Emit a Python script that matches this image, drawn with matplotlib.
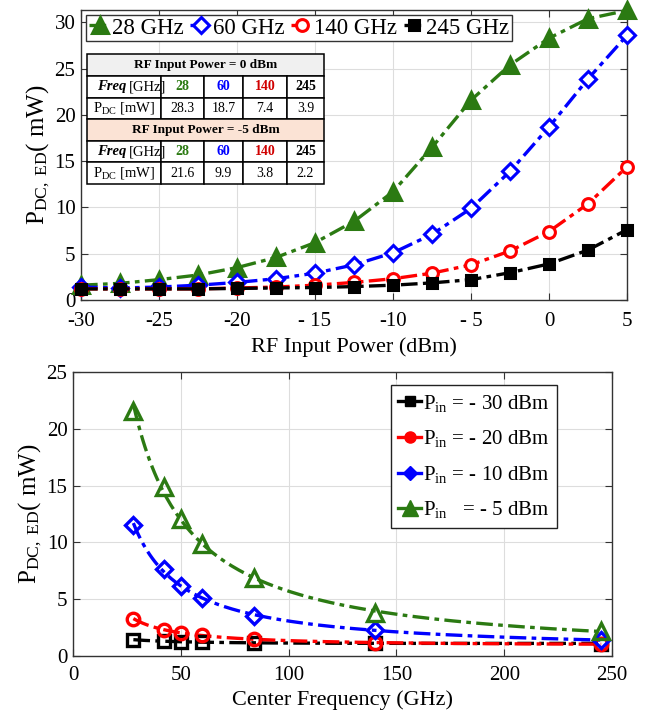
import numpy as np
import matplotlib
matplotlib.use("Agg")
import matplotlib.pyplot as plt
from matplotlib.lines import Line2D
from matplotlib.patches import Rectangle

plt.rcParams['font.family'] = 'Liberation Serif'
plt.rcParams['mathtext.fontset'] = 'custom'
plt.rcParams['mathtext.rm'] = 'Liberation Serif'
plt.rcParams['mathtext.it'] = 'Liberation Serif:italic'
plt.rcParams['mathtext.bf'] = 'Liberation Serif:bold'

# top panel: P_DC vs RF input power
pin = [-30, -27.5, -25, -22.5, -20, -17.5, -15, -12.5, -10, -7.5, -5, -2.5, 0, 2.5, 5]
p28 = [1.6, 1.8, 2.2, 2.7, 3.5, 4.6, 6.2, 8.5, 11.7, 16.5, 21.6, 25.4, 28.3, 30.4, 31.3]
p60 = [1.4, 1.3, 1.4, 1.6, 1.9, 2.3, 2.9, 3.8, 5.1, 7.1, 9.9, 13.9, 18.7, 23.9, 28.6]
p140 = [1.2, 1.2, 1.2, 1.2, 1.3, 1.4, 1.6, 1.9, 2.3, 2.9, 3.8, 5.3, 7.4, 10.4, 14.4]
p245 = [1.2, 1.2, 1.2, 1.2, 1.25, 1.3, 1.35, 1.45, 1.6, 1.85, 2.2, 2.95, 3.9, 5.4, 7.6]
top_labels = ['28 GHz', '60 GHz', '140 GHz', '245 GHz']
xtick_top = [-30, -25, -20, -15, -10, -5, 0, 5]
xtick_top_lbl = ['-30', '-25', '-20', '- 15', '-10', '- 5', '0', '5']

# table contents
tbl_freq = ['28', '60', '140', '245']
tbl_0dbm = ['28.3', '18.7', '7.4', '3.9']
tbl_m5dbm = ['21.6', '9.9', '3.8', '2.2']

# bottom panel: P_DC vs center frequency
freq = [28, 42, 50, 60, 84, 140, 245]
m30 = [1.45, 1.3, 1.25, 1.2, 1.15, 1.15, 1.1]
m20 = [3.3, 2.3, 2.0, 1.85, 1.5, 1.15, 1.05]
m10 = [11.5, 7.7, 6.2, 5.1, 3.5, 2.3, 1.4]
m5 = [21.6, 14.9, 12.1, 9.9, 6.9, 3.8, 2.2]
bot_labels = [r'P$_{\rm in}$ = - 30 dBm', r'P$_{\rm in}$ = - 20 dBm',
              r'P$_{\rm in}$ = - 10 dBm', r'P$_{\rm in}$   = - 5 dBm']

green = '#2b7a12'
blue = '#0000ff'
red = '#ff0000'
black = '#000000'
dash = (0, (5, 1.6, 1.4, 1.6))

W, H = 652, 721
fig = plt.figure(figsize=(W / 100, H / 100), dpi=100)
ax1 = fig.add_axes([81 / W, 1 - 300 / H, 546 / W, 290.5 / H])
ax2 = fig.add_axes([73 / W, 1 - 656 / H, 539 / W, 284 / H])

for ax in (ax1, ax2):
    ax.grid(True, color='#dddddd', linewidth=0.8)
    ax.set_axisbelow(True)
    ax.tick_params(direction='in', top=True, right=True, labelsize=15, length=5,
                   color='#333333', pad=4)
    for s in ax.spines.values():
        s.set_color('#333333')
        s.set_linewidth(1)
ax1.tick_params(axis='x', pad=9)
ax2.tick_params(axis='x', pad=7)

# ---- top
styles = [
    (p28, green, '^', 11, green),
    (p60, blue, 'D', 8.5, 'white'),
    (p140, red, 'o', 8.5, 'white'),
    (p245, black, 's', 7.5, black),
]
handles = []
for (y, c, m, ms, fc), lab in zip(styles, top_labels):
    h, = ax1.plot(pin, y, color=c, linestyle=dash, linewidth=2.4, marker=m,
                  markersize=ms, markerfacecolor=fc, markeredgecolor=c,
                  markeredgewidth=2.2, label=lab, clip_on=False, zorder=3)
    handles.append(h)
ax1.set_xlim(-30, 5)
ax1.set_ylim(0, 31.4)
ax1.set_xticks(xtick_top)
ax1.set_xticklabels(xtick_top_lbl)
ax1.set_yticks([0, 5, 10, 15, 20, 25, 30])
ax1.set_xlabel('RF Input Power (dBm)', fontsize=16, labelpad=4)
ax1.set_ylabel(r'P$_{\rm DC,\ ED}$( mW)', fontsize=18, labelpad=2)
leg = ax1.legend(handles=handles, loc='upper left', bbox_to_anchor=(0.01, 0.982),
                 ncol=4, fontsize=16.5, handlelength=0.9, handletextpad=0.08,
                 columnspacing=0.3, borderpad=0.12, borderaxespad=0,
                 fancybox=False, framealpha=1)
leg.get_frame().set_edgecolor('#333333')
leg.get_frame().set_linewidth(1)

# table drawn in pixel space of the top axes
ax_l, ax_b, ax_w, ax_h = 81, 300, 546, 290.5
cols = [87, 161, 204, 243, 287, 324]
t_top, t_bot = 54.5, 184
rh = (t_bot - t_top) / 6


def fx(px):
    return (px - ax_l) / ax_w


def fy(py):
    return (ax_b - py) / ax_h


def cell(x0, x1, r, bg='white'):
    y0 = t_top + r * rh
    ax1.add_patch(Rectangle((fx(x0), fy(y0 + rh)), fx(x1) - fx(x0), rh / ax_h,
                            transform=ax1.transAxes, facecolor=bg,
                            edgecolor='black', linewidth=1.1, zorder=5))
    return (fx(x0) + fx(x1)) / 2, fy(y0 + rh / 2)


num_colors = [green, blue, '#d00000', black]
for r, hdr, bg, vals in [(0, 'RF Input Power = 0 dBm', '#f0f0f0', tbl_0dbm),
                         (3, 'RF Input Power = -5 dBm', '#fbe3d5', tbl_m5dbm)]:
    cx, cy = cell(cols[0], cols[-1], r, bg)
    ax1.text(cx, cy, hdr, transform=ax1.transAxes, ha='center', va='center',
             fontsize=9.5, fontweight='bold', zorder=6)
    cx, cy = cell(cols[0], cols[1], r + 1)
    ax1.text(cx + 0.005, cy, 'Freq', transform=ax1.transAxes, ha='right', va='center',
             fontsize=10.5, fontweight='bold', fontstyle='italic', zorder=6)
    ax1.text(cx + 0.009, cy, '[GHz]', transform=ax1.transAxes, ha='left', va='center',
             fontsize=10.5, zorder=6)
    cx, cy = cell(cols[0], cols[1], r + 2)
    ax1.text(cx, cy, r'P$_{\rm DC}$ [mW]', transform=ax1.transAxes, ha='center',
             va='center', fontsize=10.5, zorder=6)
    for i in range(4):
        cx, cy = cell(cols[i + 1], cols[i + 2], r + 1)
        ax1.text(cx, cy, tbl_freq[i], transform=ax1.transAxes, ha='center', va='center',
                 fontsize=10, fontweight='bold', color=num_colors[i], zorder=6)
        cx, cy = cell(cols[i + 1], cols[i + 2], r + 2)
        ax1.text(cx, cy, vals[i], transform=ax1.transAxes, ha='center', va='center',
                 fontsize=10, zorder=6)

# ---- bottom
bstyles = [
    (m30, black, 's', 8),
    (m20, red, 'o', 9),
    (m10, blue, 'D', 8.5),
    (m5, green, '^', 12),
]
lf = np.log(freq)
xs = np.linspace(freq[0], freq[-1], 200)
bh = []
for (y, c, m, ms), lab in zip(bstyles, bot_labels):
    coef = np.polyfit(lf, np.log(y), 2)
    ax2.plot(xs, np.exp(np.polyval(coef, np.log(xs))), color=c, linestyle=dash,
             linewidth=2.4, zorder=3)
    ax2.plot(freq, y, linestyle='none', marker=m, markersize=ms, markerfacecolor='none',
             markeredgecolor=c, markeredgewidth=2.4, zorder=4, clip_on=False)
    bh.append(Line2D([], [], color=c, linewidth=2.4, marker=m, markersize=ms - 1,
                     markerfacecolor=c, markeredgecolor=c, label=lab))
ax2.set_xlim(0, 250)
ax2.set_ylim(0, 25)
ax2.set_xticks([0, 50, 100, 150, 200, 250])
ax2.set_yticks([0, 5, 10, 15, 20, 25])
ax2.set_xlabel('Center Frequency (GHz)', fontsize=16, labelpad=4)
ax2.set_ylabel(r'P$_{\rm DC,\ ED}$( mW)', fontsize=18, labelpad=2)
leg2 = ax2.legend(handles=bh, loc='upper right', bbox_to_anchor=(0.898, 0.953),
                  fontsize=15, handlelength=1.1, handletextpad=0.1, labelspacing=0.7,
                  borderpad=0.35, borderaxespad=0, fancybox=False, framealpha=1)
leg2.get_frame().set_edgecolor('#222222')
leg2.get_frame().set_linewidth(1)

fig.savefig('out.png', dpi=100)
